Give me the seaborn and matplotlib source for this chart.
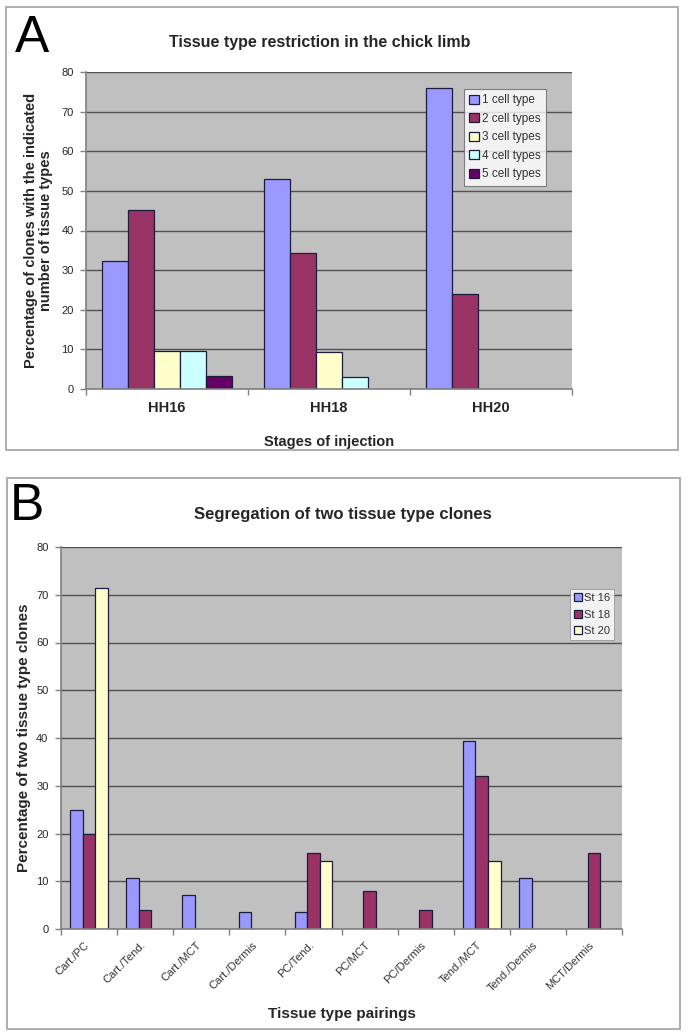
import matplotlib
matplotlib.use("Agg")
import matplotlib.pyplot as plt
from matplotlib.patches import Rectangle
from matplotlib.transforms import ScaledTranslation
import seaborn as sns
import pandas as pd

# ---------------- data ----------------
stages = ["HH16", "HH18", "HH20"]
cell_types = ["1 cell type", "2 cell types", "3 cell types", "4 cell types", "5 cell types"]
one_type = [32.3, 53.1, 76.0]
two_types = [45.2, 34.4, 24.0]
three_types = [9.7, 9.4, 0.0]
four_types = [9.7, 3.1, 0.0]
five_types = [3.2, 0.0, 0.0]

pairings = ["Cart./PC", "Cart./Tend.", "Cart./MCT", "Cart./Dermis", "PC/Tend.",
            "PC/MCT", "PC/Dermis", "Tend./MCT", "Tend./Dermis", "MCT/Dermis"]
st_labels = ["St 16", "St 18", "St 20"]
st16 = [25.0, 10.7, 7.1, 3.6, 3.6, 0.0, 0.0, 39.3, 10.7, 0.0]
st18 = [20.0, 4.0, 0.0, 0.0, 16.0, 8.0, 4.0, 32.0, 0.0, 16.0]
st20 = [71.4, 0.0, 0.0, 0.0, 14.3, 0.0, 0.0, 14.3, 0.0, 0.0]

yticks = [0, 10, 20, 30, 40, 50, 60, 70, 80]

colors_a = ["#9999FF", "#993366", "#FFFFCC", "#CCFFFF", "#660066"]
colors_b = ["#9999FF", "#993366", "#FFFFCC"]

# ---------------- long-form frames ----------------
rows = []
for series, vals in zip(cell_types, [one_type, two_types, three_types, four_types, five_types]):
    for s, v in zip(stages, vals):
        rows.append({"stage": s, "type": series, "pct": v})
df_a = pd.DataFrame(rows)

rows = []
for series, vals in zip(st_labels, [st16, st18, st20]):
    for p, v in zip(pairings, vals):
        rows.append({"pair": p, "stage": series, "pct": v})
df_b = pd.DataFrame(rows)

sns.set_theme(style="white")
plt.rcParams["font.family"] = ["Liberation Sans", "DejaVu Sans"]

W, H = 690, 1035
fig = plt.figure(figsize=(W / 100, H / 100), dpi=100)


def fx(x):
    return x / W


def fy(y):
    return 1 - y / H


# panel frames
for (x0, y0, x1, y1) in [(6, 7, 678, 450), (7, 478, 680, 1029)]:
    fig.patches.append(Rectangle((fx(x0), fy(y1)), fx(x1 - x0), (y1 - y0) / H,
                                 transform=fig.transFigure, fill=False,
                                 edgecolor="#a8a8a8", linewidth=1.3))

fig.text(fx(15), fy(52), "A", fontsize=37, ha="left", va="baseline", color="black")
fig.text(fx(10), fy(520), "B", fontsize=37, ha="left", va="baseline", color="black")


def style_axes(ax, ncat):
    ax.set_facecolor("#C0C0C0")
    ax.set_ylim(0, 80)
    ax.set_xlim(-0.5, ncat - 0.5)
    ax.set_yticks(yticks)
    ax.yaxis.grid(True, color="#505050", linewidth=1.0)
    ax.set_axisbelow(True)
    for sp in ["top", "right"]:
        ax.spines[sp].set_visible(False)
    for sp in ["left", "bottom"]:
        ax.spines[sp].set_color("#808080")
        ax.spines[sp].set_linewidth(1.2)
    ax.set_xticks([i - 0.5 for i in range(ncat + 1)], minor=True)
    ax.tick_params(axis="x", which="minor", length=4, color="#808080", width=1,
                   direction="out", bottom=True)
    ax.tick_params(axis="x", which="major", length=0, bottom=True)
    ax.tick_params(axis="y", which="major", length=4, color="#808080", width=1,
                   direction="out", left=True)
    for cont in ax.containers:
        for bar in cont:
            if bar.get_height() == 0:
                bar.set_visible(False)


# ---------------- panel A ----------------
axA = fig.add_axes([fx(86), fy(389), fx(572 - 86), (389 - 72) / H])
sns.barplot(data=df_a, x="stage", y="pct", hue="type", order=stages,
            hue_order=cell_types, palette=colors_a, width=0.8, errorbar=None,
            edgecolor="#1c1c3c", linewidth=0.9, saturation=1, ax=axA)
style_axes(axA, len(stages))
axA.set_xlabel("Stages of injection", fontsize=10.5, fontweight="bold", labelpad=14)
axA.set_ylabel("Percentage of clones with the indicated\nnumber of tissue types",
               fontsize=10.5, fontweight="bold", labelpad=6, linespacing=1.1)
axA.tick_params(axis="x", labelsize=10.5, pad=9)
for t in axA.get_xticklabels():
    t.set_fontweight("bold")
axA.tick_params(axis="y", labelsize=8, pad=5)
legA = axA.legend(loc="upper left", bbox_to_anchor=((464 - 86) / (572 - 86), (389 - 89) / (389 - 72)),
                  fontsize=8.5, frameon=True, fancybox=False, handlelength=0.8,
                  handleheight=0.8, handletextpad=0.3, borderpad=0.45,
                  labelspacing=0.55, borderaxespad=0)
legA.get_frame().set_edgecolor("#666666")
legA.get_frame().set_linewidth(0.8)
legA.get_frame().set_facecolor("white")
for t in legA.get_texts():
    t.set_color("#333333")
fig.text(fx(320), fy(43), "Tissue type restriction in the chick limb",
         fontsize=11.5, fontweight="bold", ha="center", va="center")

# ---------------- panel B ----------------
axB = fig.add_axes([fx(61), fy(929), fx(622 - 61), (929 - 547) / H])
sns.barplot(data=df_b, x="pair", y="pct", hue="stage", order=pairings,
            hue_order=st_labels, palette=colors_b, width=0.67, errorbar=None,
            edgecolor="#1c1c3c", linewidth=0.9, saturation=1, ax=axB)
style_axes(axB, len(pairings))
axB.set_xlabel("Tissue type pairings", fontsize=11, fontweight="bold", labelpad=10)
axB.set_ylabel("Percentage of two tissue type clones", fontsize=11,
               fontweight="bold")
axB.yaxis.set_label_coords((31 - 61) / (622 - 61), 0.5)
axB.tick_params(axis="y", labelsize=8, pad=5)
axB.set_xticks(range(len(pairings)))
axB.set_xticklabels(pairings, rotation=45, ha="right", rotation_mode="anchor",
                    fontsize=8)
axB.tick_params(axis="x", which="major", pad=8)
offset = ScaledTranslation(-5 / 100, 0, fig.dpi_scale_trans)
for t in axB.get_xticklabels():
    t.set_transform(t.get_transform() + offset)
    t.set_color("#333333")
legB = axB.legend(loc="upper left", bbox_to_anchor=((570 - 61) / (622 - 61), (929 - 589) / (929 - 547)),
                  fontsize=8, frameon=True, fancybox=False, handlelength=0.7,
                  handleheight=0.7, handletextpad=0.2, borderpad=0.35,
                  labelspacing=0.6, borderaxespad=0)
legB.get_frame().set_edgecolor("#888888")
legB.get_frame().set_linewidth(0.6)
legB.get_frame().set_facecolor("white")
for t in legB.get_texts():
    t.set_color("#333333")
fig.text(fx(343), fy(515), "Segregation of two tissue type clones",
         fontsize=12, fontweight="bold", ha="center", va="center")

fig.savefig("out.png", dpi=100, facecolor="white")
